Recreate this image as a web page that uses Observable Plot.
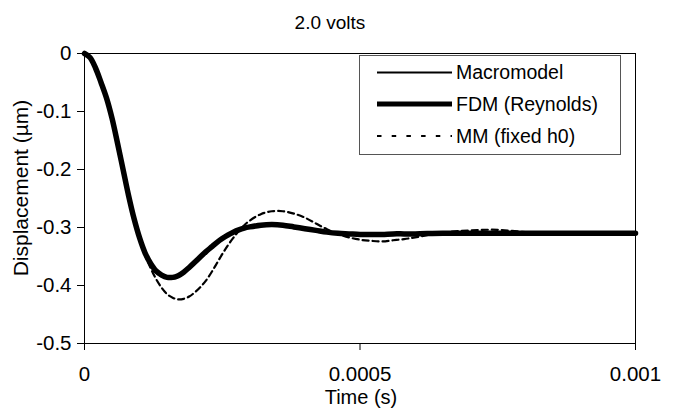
<!DOCTYPE html>
<html>
<head>
<meta charset="utf-8">
<script src="https://cdn.jsdelivr.net/npm/d3@7"></script>
<script src="https://cdn.jsdelivr.net/npm/@observablehq/plot@0.6"></script>
<style>
  html, body { margin: 0; padding: 0; background: white; }
  #chart { width: 675px; height: 410px; }
</style>
</head>
<body>
<div id="chart"></div>
<script>
// Time in microseconds
const timeMicros = [0,10,20,30,40,50,60,70,80,90,100,110,120,130,140,150,160,170,180,190,200,
  210,220,230,240,250,260,270,280,290,300,320,340,360,380,400,420,440,460,480,500,520,540,560,580,600,
  650,700,750,800,850,900,950,1000];

// Displacement (µm)
const fdmReynolds = [0,-0.007,-0.025,-0.05,-0.077,-0.112,-0.155,-0.2,-0.245,-0.285,-0.318,-0.344,-0.362,-0.375,-0.382,-0.386,-0.386,-0.383,-0.377,-0.369,-0.36,
  -0.351,-0.342,-0.334,-0.326,-0.319,-0.313,-0.308,-0.304,-0.301,-0.299,-0.296,-0.295,-0.296,-0.299,-0.302,-0.305,-0.308,-0.31,-0.311,-0.312,-0.312,-0.312,-0.311,-0.311,-0.311,
  -0.31,-0.31,-0.31,-0.31,-0.31,-0.31,-0.31,-0.31];

const macromodel = [0,-0.007,-0.025,-0.05,-0.077,-0.112,-0.155,-0.2,-0.245,-0.286,-0.319,-0.346,-0.365,-0.378,-0.385,-0.388,-0.389,-0.386,-0.38,-0.372,-0.363,
  -0.354,-0.345,-0.336,-0.328,-0.321,-0.315,-0.309,-0.305,-0.302,-0.3,-0.296,-0.295,-0.296,-0.299,-0.302,-0.305,-0.308,-0.31,-0.311,-0.312,-0.312,-0.312,-0.311,-0.311,-0.311,
  -0.31,-0.31,-0.31,-0.31,-0.31,-0.31,-0.31,-0.31];

const mmFixedH0 = [0,-0.007,-0.025,-0.05,-0.077,-0.112,-0.155,-0.2,-0.245,-0.286,-0.32,-0.348,-0.37,-0.389,-0.404,-0.415,-0.421,-0.424,-0.423,-0.419,-0.412,
  -0.403,-0.392,-0.378,-0.362,-0.346,-0.331,-0.318,-0.306,-0.296,-0.288,-0.277,-0.272,-0.272,-0.276,-0.283,-0.293,-0.303,-0.311,-0.317,-0.321,-0.323,-0.324,-0.322,-0.32,-0.317,
  -0.309,-0.305,-0.304,-0.308,-0.311,-0.31,-0.31,-0.31];

const xTicks = [0, 0.0005, 0.001];
const yTicks = [0, -0.1, -0.2, -0.3, -0.4, -0.5];
const seriesNames = ["Macromodel", "FDM (Reynolds)", "MM (fixed h0)"];
const titleText = "2.0 volts";
const xLabel = "Time (s)";
const yLabel = "Displacement (µm)";

const toRows = (vals) => timeMicros.map((t, i) => ({t: t * 1e-6, v: vals[i]}));

const font = "Liberation Sans, Arial, Helvetica, sans-serif";

const svg = Plot.plot({
  width: 675,
  height: 410,
  marginLeft: 84,
  marginRight: 40,
  marginTop: 53,
  marginBottom: 67,
  style: {fontFamily: font, fontSize: "20px", background: "white", color: "black"},
  x: {domain: [0, 0.001]},
  y: {domain: [-0.5, 0]},
  marks: [
    Plot.axisX({ticks: xTicks, tickSize: 7, tickPadding: 16, fontSize: 20.5,
      tickFormat: d => d === 0 ? "0" : String(d), label: null}),
    Plot.axisY({ticks: yTicks, tickSize: 7, tickPadding: 6, fontSize: 20.5,
      tickFormat: d => d === 0 ? "0" : d.toFixed(1), label: null}),
    Plot.line(toRows(mmFixedH0), {x: "t", y: "v", stroke: "black", strokeWidth: 2.2,
      strokeDasharray: "6,4", curve: "catmull-rom"}),
    Plot.line(toRows(fdmReynolds), {x: "t", y: "v", stroke: "black", strokeWidth: 5.5,
      curve: "catmull-rom"}),
    Plot.line(toRows(macromodel), {x: "t", y: "v", stroke: "black", strokeWidth: 1.5,
      curve: "catmull-rom"}),
    Plot.frame({stroke: "black", strokeWidth: 1})
  ]
});

const s = d3.select(svg);
// Title
s.append("text").attr("x", 330).attr("y", 29).attr("text-anchor", "middle")
  .attr("font-family", font).attr("font-size", 19).attr("fill", "black").text(titleText);
// X label
s.append("text").attr("x", 361).attr("y", 404).attr("text-anchor", "middle")
  .attr("font-family", font).attr("font-size", 20).attr("fill", "black").text(xLabel);
// Y label
s.append("text").attr("transform", "translate(28,188) rotate(-90)").attr("text-anchor", "middle")
  .attr("font-family", font).attr("font-size", 21).attr("fill", "black").text(yLabel);

// Legend
const lg = s.append("g");
lg.append("rect").attr("x", 359.5).attr("y", 55.5).attr("width", 261).attr("height", 99)
  .attr("fill", "white").attr("stroke", "#555").attr("stroke-width", 1);
const rowsY = [72.5, 104, 136];
const lw = [2, 5, 2];
const dash = [null, null, "4.5,10.2"];
seriesNames.forEach((name, i) => {
  const l = lg.append("line").attr("x1", 377).attr("x2", 452).attr("y1", rowsY[i]).attr("y2", rowsY[i])
    .attr("stroke", "black").attr("stroke-width", lw[i]);
  if (dash[i]) l.attr("stroke-dasharray", dash[i]);
  lg.append("text").attr("x", 456).attr("y", rowsY[i]).attr("dy", "0.35em").attr("text-anchor", "start")
    .attr("font-family", font).attr("font-size", 19.5).attr("fill", "black").text(name);
});

document.getElementById("chart").appendChild(svg);
</script>
</body>
</html>
